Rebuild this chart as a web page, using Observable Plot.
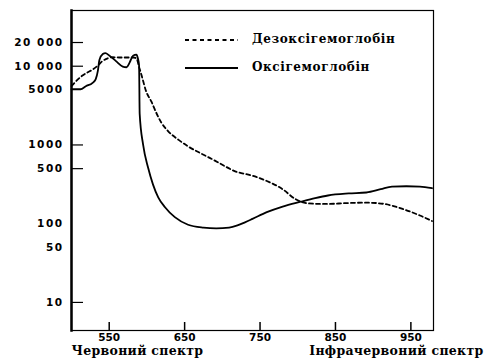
<!DOCTYPE html>
<html><head><meta charset="utf-8">
<script src="https://cdn.jsdelivr.net/npm/d3@7"></script>
<script src="https://cdn.jsdelivr.net/npm/@observablehq/plot@0.6"></script>
<style>body{margin:0;background:#fff} #chart{width:484px;height:362px;overflow:hidden}</style>
</head><body><div id="chart"></div>
<script>
// Wavelengths (nm) and absorption values
const oxyNm = [500, 512, 519, 528, 532, 535, 537, 541.5, 545, 550, 559, 568, 573, 577, 581.6, 586, 588, 589.6, 590.4, 595, 601.6, 608, 615, 624, 637, 654.6, 675, 692, 709, 720, 730, 740, 759, 780, 804, 823, 840, 867.6, 891, 910, 925, 944, 962, 978];
const oxyVal = [5100, 5100, 5570, 6150, 6800, 8770, 12000, 14300, 14700, 13700, 11600, 9900, 9700, 11100, 13600, 14000, 12600, 10200, 2480, 1000, 512, 316, 216, 162, 121, 97, 89, 87, 89, 95, 104, 115, 140, 165, 190, 211, 228, 242, 249, 274, 296, 299, 296, 282];
const deoxyNm = [500, 514, 521, 528, 535, 541, 548, 555, 563, 572, 582, 586, 590, 593, 599, 606, 612, 619, 628, 642, 655, 671, 688, 700, 717, 738, 759, 780, 797, 814, 836, 868, 891, 915, 939, 962, 978];
const deoxyVal = [5600, 7550, 8330, 9050, 10200, 11600, 12600, 13000, 12900, 12900, 12900, 12600, 9500, 7600, 4790, 3540, 2610, 1930, 1500, 1160, 953, 787, 649, 560, 462, 412, 348, 274, 205, 181, 178, 183, 185, 178, 154, 127, 108];
const seriesNames = ["Дезоксігемоглобін", "Оксігемоглобін"];
const spectrumLabels = ["Червоний спектр", "Інфрачервоний спектр"];
const xTicks = [550, 650, 750, 850, 950];
const yLabelTicks = [10, 50, 100, 500, 1000, 5000, 10000, 20000];
const yTickLabels = ["10", "50", "100", "500", "1000", "5000", "10 000", "20 000"];
const yTickMarks = [10, 500, 1000, 10000, 20000];

const oxy = oxyNm.map((nm, i) => ({nm, v: oxyVal[i]}));
const deoxy = deoxyNm.map((nm, i) => ({nm, v: deoxyVal[i]}));

const axisFont = {fontFamily: "DejaVu Sans", fontWeight: "bold", fontSize: 10.5, fill: "black"};
const serifFont = {fontFamily: "DejaVu Serif", fontWeight: "bold", fill: "black"};

const chart = Plot.plot({
  width: 484, height: 362,
  marginLeft: 71, marginRight: 51, marginTop: 10, marginBottom: 32,
  style: {background: "white", color: "black"},
  x: {domain: [500, 980], label: null},
  y: {type: "log", domain: [4.4, 51000], label: null, axis: null},
  marks: [
    Plot.frame({stroke: "black", strokeWidth: 1.2}),
    Plot.frame({anchor: "left", stroke: "black", strokeWidth: 2.5}),
    Plot.axisX(xTicks, {tickSize: -8, tickFormat: () => "", strokeWidth: 1.5}),
    Plot.axisX(xTicks, {tickSize: 0, tickPadding: 3, ...axisFont}),
    Plot.axisY(yTickMarks, {tickSize: -12, tickFormat: () => "", strokeWidth: 1.2}),
    Plot.text(yLabelTicks, {y: d => d, text: (d, i) => yTickLabels[i], frameAnchor: "left", dx: -8, textAnchor: "end", ...axisFont}),
    Plot.line(deoxy, {x: "nm", y: "v", stroke: "black", strokeWidth: 1.8, strokeDasharray: "4,3", curve: "monotone-x"}),
    Plot.line(oxy, {x: "nm", y: "v", stroke: "black", strokeWidth: 1.8, curve: "monotone-x"}),
    Plot.text([spectrumLabels[0]], {text: d => d, frameAnchor: "bottom-left", dy: 24, textAnchor: "start", fontSize: 12.5, ...serifFont}),
    Plot.text([spectrumLabels[1]], {text: d => d, frameAnchor: "bottom-right", dx: 50, dy: 24, textAnchor: "end", fontSize: 12.5, ...serifFont})
  ]
});
document.getElementById("chart").appendChild(chart);

const svg = d3.select(chart);
svg.selectAll('g[aria-label="text"] text').each(function () {
  const t = d3.select(this);
  if (/^[0-9 ]+$/.test(t.text())) t.style("letter-spacing", "1.5px");
  else t.style("letter-spacing", "0.3px");
});

// Legend (inside plot area, top right)
const leg = svg.append("g").attr("class", "legend").attr("text-anchor", "start");
const legRows = [{name: seriesNames[0], dash: "4,3.5", y: 39}, {name: seriesNames[1], dash: null, y: 67}];
legRows.forEach(r => {
  leg.append("line").attr("x1", 185).attr("x2", 238).attr("y1", r.y + 1).attr("y2", r.y + 1)
    .attr("stroke", "black").attr("stroke-width", 1.8).attr("stroke-dasharray", r.dash);
  leg.append("text").attr("x", 252).attr("y", r.y).attr("dy", "0.35em").attr("text-anchor", "start")
    .attr("font-family", "DejaVu Serif").attr("font-weight", "bold").attr("font-size", 12)
    .style("letter-spacing", "0.6px").attr("fill", "black").text(r.name);
});
</script></body></html>
